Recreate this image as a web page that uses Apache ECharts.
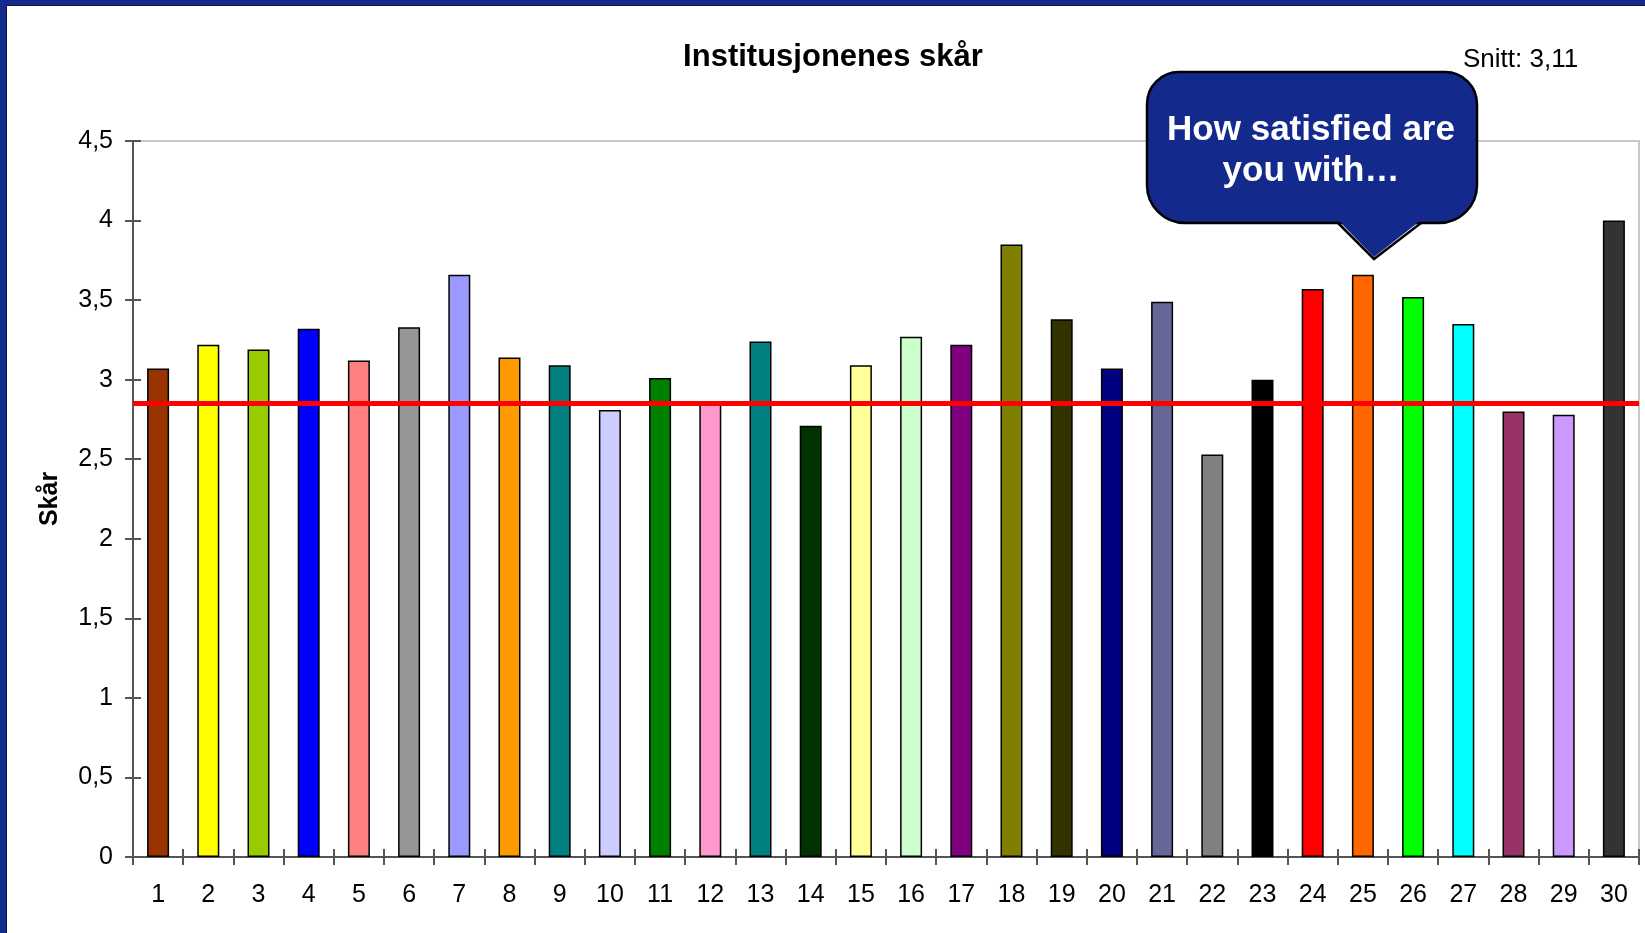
<!DOCTYPE html>
<html>
<head>
<meta charset="utf-8">
<title>Institusjonenes skår</title>
<script src="https://cdn.jsdelivr.net/npm/echarts@6/dist/echarts.min.js"></script>
<style>
  html, body { margin: 0; padding: 0; background: #fff; }
  #chart { width: 1645px; height: 933px; }
</style>
</head>
<body>
<div id="chart"></div>
<script>
// institutions 1..30
const categories = ['1', '2', '3', '4', '5', '6', '7', '8', '9', '10',
  '11', '12', '13', '14', '15', '16', '17', '18', '19', '20',
  '21', '22', '23', '24', '25', '26', '27', '28', '29', '30'];

const scores = [3.07, 3.22, 3.19, 3.32, 3.12, 3.33, 3.66, 3.14, 3.09, 2.81,
  3.01, 2.86, 3.24, 2.71, 3.09, 3.27, 3.22, 3.85, 3.38, 3.07,
  3.49, 2.53, 3.00, 3.57, 3.66, 3.52, 3.35, 2.80, 2.78, 4.00];

// excel-style palette, one per bar
const barColors = ['#993300', '#FFFF00', '#99CC00', '#0000FF', '#FF8080',
  '#969696', '#9999FF', '#FF9900', '#008080', '#CCCCFF',
  '#008000', '#FF99CC', '#008080', '#003300', '#FFFF99',
  '#CCFFCC', '#800080', '#808000', '#333300', '#000080',
  '#666699', '#808080', '#000000', '#FF0000', '#FF6600',
  '#00FF00', '#00FFFF', '#993366', '#CC99FF', '#333333'];

const yTicks = ['0', '0,5', '1', '1,5', '2', '2,5', '3', '3,5', '4', '4,5'];
const refLine = 2.85;

const font = '"Liberation Sans", Arial, sans-serif';
const navy = '#13298c';

const chart = echarts.init(document.getElementById('chart'));

const option = {
  animation: false,
  backgroundColor: '#fff',
  textStyle: { fontFamily: font },
  title: [
    {
      text: 'Institusjonenes skår',
      left: 828,
      top: 37,
      textAlign: 'center',
      textStyle: { fontFamily: font, fontSize: 31, fontWeight: 'bold', color: '#000' }
    },
    {
      text: 'Snitt: 3,11',
      left: 1458,
      top: 42,
      textStyle: { fontFamily: font, fontSize: 26, fontWeight: 'normal', color: '#000' }
    }
  ],
  grid: {
    left: 133,
    right: 6,
    top: 141,
    bottom: 76,
    show: true,
    borderColor: '#c8c8c8',
    borderWidth: 2,
    backgroundColor: 'transparent'
  },
  xAxis: [
    {
      type: 'category',
      data: categories,
      position: 'bottom',
      axisLine: { lineStyle: { color: '#555', width: 2 } },
      axisTick: { show: true, length: 8, lineStyle: { color: '#555', width: 2 } },
      axisLabel: { color: '#000', fontSize: 25, margin: 26, fontFamily: font }
    },
    {
      type: 'category',
      data: categories,
      position: 'bottom',
      axisLine: { show: false },
      axisTick: { show: true, inside: true, length: 8, lineStyle: { color: '#555', width: 2 } },
      axisLabel: { show: false }
    }
  ],
  yAxis: [
    {
      type: 'value',
      min: 0,
      max: 4.5,
      interval: 0.5,
      position: 'left',
      name: 'Skår',
      nameLocation: 'middle',
      nameGap: 70,
      nameRotate: 90,
      nameTextStyle: { fontFamily: font, fontSize: 25, fontWeight: 'bold', color: '#000' },
      axisLine: { show: true, lineStyle: { color: '#555', width: 2 } },
      axisTick: { show: true, length: 8, lineStyle: { color: '#555', width: 2 } },
      axisLabel: {
        color: '#000',
        fontSize: 25,
        margin: 20,
        fontFamily: font,
        formatter: function (v) { return yTicks[Math.round(v * 2)]; }
      },
      splitLine: { show: false }
    },
    {
      type: 'value',
      min: 0,
      max: 4.5,
      interval: 0.5,
      position: 'left',
      offset: 0,
      axisLine: { show: false },
      axisTick: { show: true, inside: true, length: 8, lineStyle: { color: '#555', width: 2 } },
      axisLabel: { show: false },
      splitLine: { show: false }
    }
  ],
  series: [
    {
      type: 'bar',
      xAxisIndex: 0,
      yAxisIndex: 0,
      barWidth: 22,
      data: scores.map(function (v, i) {
        return {
          value: v,
          itemStyle: { color: barColors[i], borderColor: '#000', borderWidth: 1.5 }
        };
      }),
      markLine: {
        silent: true,
        symbol: 'none',
        label: { show: false },
        lineStyle: { color: '#ff0000', width: 5, type: 'solid' },
        data: [{ yAxis: refLine }]
      }
    }
  ],
  graphic: [
    // frame strips (top + left)
    { type: 'rect', shape: { x: 0, y: 0, width: 1645, height: 5 }, style: { fill: navy }, z: 100 },
    { type: 'rect', shape: { x: 0, y: 0, width: 7, height: 933 }, style: { fill: navy }, z: 100 },
    { type: 'rect', shape: { x: 7, y: 5, width: 1638, height: 1 }, style: { fill: '#0b1650' }, z: 100 },
    { type: 'rect', shape: { x: 6, y: 5, width: 1, height: 928 }, style: { fill: '#0b1650' }, z: 100 },
    // speech bubble: body, pointer fill, pointer outline
    {
      type: 'rect',
      z: 110,
      shape: { x: 1147, y: 72, width: 330, height: 151, r: [32, 32, 38, 38] },
      style: { fill: navy, stroke: '#000', lineWidth: 2.5 }
    },
    {
      type: 'polygon',
      z: 111,
      shape: { points: [[1339, 221], [1420, 221], [1374, 257]] },
      style: { fill: navy }
    },
    {
      type: 'polyline',
      z: 112,
      shape: { points: [[1338, 223], [1374, 259], [1421, 223]] },
      style: { stroke: '#000', lineWidth: 2.5, fill: null }
    },
    {
      type: 'text',
      z: 113,
      x: 1311,
      y: 151,
      style: {
        text: 'How satisfied are\nyou with…',
        fill: '#fff',
        font: 'bold 35px "Liberation Sans", Arial, sans-serif',
        lineHeight: 41,
        align: 'center',
        verticalAlign: 'middle'
      }
    }
  ]
};

chart.setOption(option);
</script>
</body>
</html>
